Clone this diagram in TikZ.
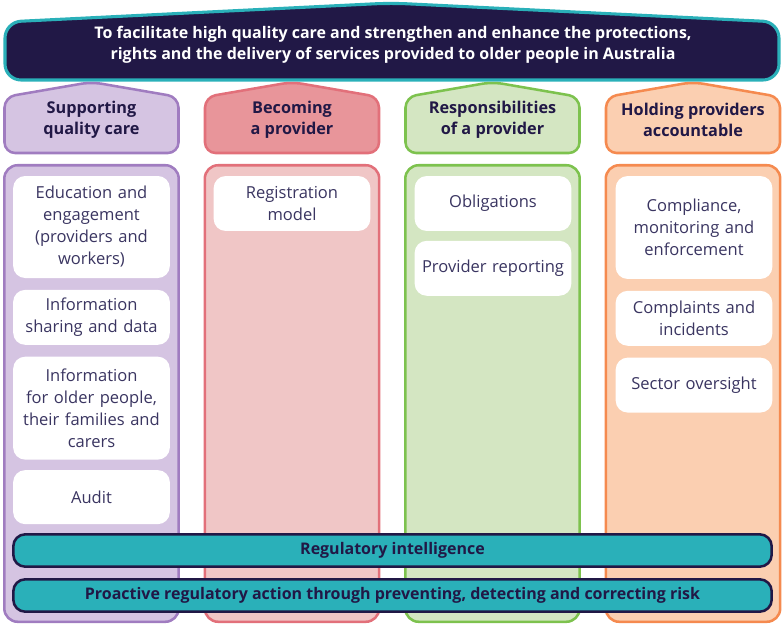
\documentclass[tikz,border=0pt]{standalone}
\usepackage{fontspec}
\setmainfont{Open Sans}
\usetikzlibrary{positioning}

\definecolor{navy}{HTML}{211846}
\definecolor{itemtext}{HTML}{3A3561}
\definecolor{bandteal}{HTML}{2AB0B9}
\definecolor{purpleline}{HTML}{A07CC0}
\definecolor{purplefill}{HTML}{D5C4E2}
\definecolor{pinkline}{HTML}{E2707A}
\definecolor{pinkhead}{HTML}{E8959A}
\definecolor{pinkfill}{HTML}{F0C6C6}
\definecolor{greenline}{HTML}{7DC24E}
\definecolor{greenfill}{HTML}{D4E6C2}
\definecolor{orangeline}{HTML}{F58A4F}
\definecolor{orangefill}{HTML}{FBCFB1}

\begin{document}
\begin{tikzpicture}[x=0.75pt,y=-0.75pt,node distance=8.5pt,
  font=\fontsize{12.4}{16.5}\selectfont,
  item/.style={fill=white,rounded corners=9pt,align=center,text=itemtext,
    minimum width=117.5pt,text width=116pt,inner sep=0pt},
  pillar/.style={line width=1.9pt,rounded corners=10pt,
    minimum width=130.8pt,minimum height=342.4pt},
  head/.style={line width=1.9pt,rounded corners=8pt},
  headtext/.style={font=\bfseries\fontsize{12.2}{15.75}\selectfont,text=navy,align=center},
  band/.style={fill=bandteal,draw=navy,line width=1.9pt,rounded corners=9pt,
    minimum width=568.8pt,minimum height=24.3pt,inner sep=0pt,
    font=\bfseries\fontsize{12}{14}\selectfont,text=navy}]
  \useasboundingbox (0,0) rectangle (782,625);

  % aim of the framework
  \draw[fill=navy,draw=bandteal,line width=2.3pt,rounded corners=12pt]
    (5,80) -- (5,22) -- (391,3) -- (779,22) -- (779,80) -- cycle;
  \node[text=white,align=center,font=\bfseries\fontsize{12}{15.75}\selectfont] (aim) at (393,45)
    {To facilitate high quality care and strengthen and enhance the protections,\\
     rights and the delivery of services provided to older people in Australia};

  % the four pillars with their heads
  \foreach \i/\cx/\ln/\fl/\hf/\txt in {
    1/91.5/purpleline/purplefill/purplefill/{Supporting\\quality care},
    2/292/pinkline/pinkfill/pinkhead/{Becoming\\a provider},
    3/492.5/greenline/greenfill/greenfill/{Responsibilities\\of a provider},
    4/693/orangeline/orangefill/orangefill/{Holding providers\\accountable}}
  {
    \node[pillar,draw=\ln,fill=\fl] (col\i) at (\cx,393.5) {};
    \draw[head,draw=\ln,fill=\hf] (\cx-87,153) -- (\cx-87,97) -- (\cx,82)
      -- (\cx+87,97) -- (\cx+87,153) -- cycle;
    \node[headtext] (head\i) at (\cx,120) {\txt};
  }

  % supporting quality care
  \node[item,minimum height=76.5pt] (educ) at (91.5,227)
    {Education and\\engagement\\(providers and\\workers)};
  \node[item,minimum height=41.2pt,below=of educ] (share) {Information\\sharing and data};
  \node[item,minimum height=77.2pt,below=of share] (info)
    {Information\\for older people,\\their families and\\carers};
  \node[item,minimum height=40.5pt,below=7.5pt of info] (audit) {Audit};

  % becoming a provider
  \node[item,minimum height=41.2pt] (regist) at (292,203.5) {Registration\\model};

  % responsibilities of a provider
  \node[item,minimum height=41.2pt] (oblig) at (493,203.5) {Obligations};
  \node[item,minimum height=41.2pt,below=7pt of oblig] (report) {Provider reporting};

  % holding providers accountable
  \node[item,minimum height=77.2pt] (compl) at (694,227.5)
    {Compliance,\\monitoring and\\enforcement};
  \node[item,minimum height=41.2pt,below=of compl] (incid) {Complaints and\\incidents};
  \node[item,minimum height=41.2pt,below=of incid] (sector) {Sector oversight};

  % bands across all pillars
  \node[band] (intel) at (392.5,550.5) {Regulatory intelligence};
  \node[band] (proact) at (392.5,595.5)
    {Proactive regulatory action through preventing, detecting and correcting risk};
\end{tikzpicture}
\end{document}
